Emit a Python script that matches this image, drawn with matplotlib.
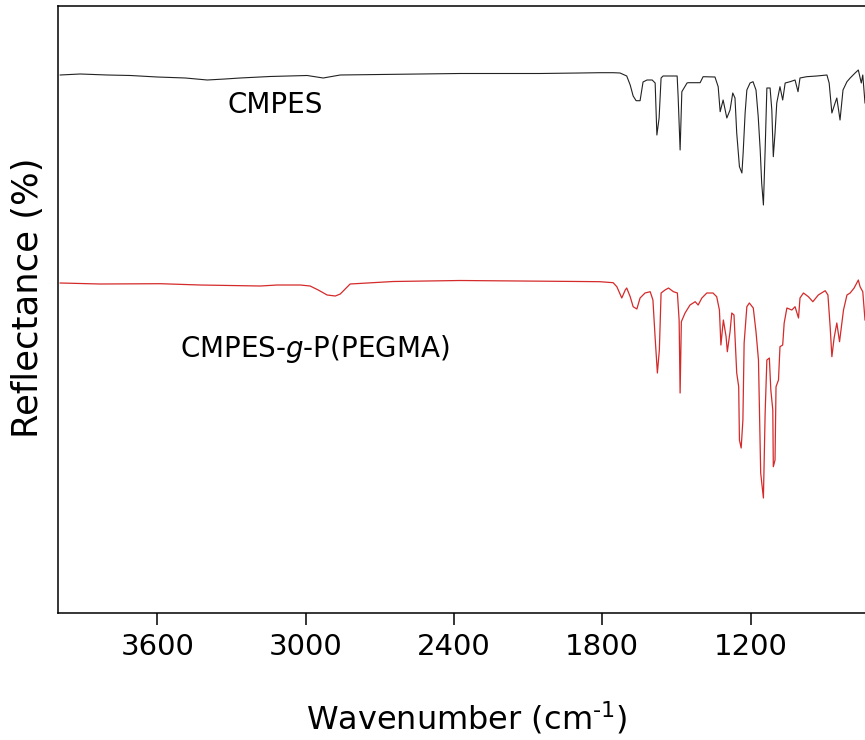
import numpy as np
import matplotlib
matplotlib.use('Agg')
import matplotlib.pyplot as plt

plt.rcParams['font.family'] = ['DejaVu Sans']
plt.rcParams['mathtext.fontset'] = 'dejavusans'

#---------------- FTIR data (offset reflectance, a.u.)
# CMPES
wn_cmpes = [3993, 3912, 3803, 3709, 3601, 3487, 3398, 3326, 3265, 3144,
            2994, 2929, 2860, 2699, 2537, 2375, 2213, 2051, 1890, 1809,
            1756, 1728, 1701, 1687, 1675, 1663, 1647, 1635, 1619, 1598,
            1586, 1579, 1570, 1562, 1554, 1497, 1493, 1485, 1478, 1457,
            1453, 1404, 1392, 1344, 1331, 1323, 1311, 1296, 1283, 1272,
            1263, 1256, 1245, 1235, 1230, 1222, 1215, 1202, 1190, 1178,
            1169, 1161, 1155, 1148, 1141, 1134, 1121, 1114, 1108, 1101,
            1094, 1081, 1070, 1060, 1040, 1020, 1008, 1000, 973, 932,
            891, 882, 871, 858, 851, 838, 826, 810, 797, 777,
            764, 752, 746, 737]
r_cmpes = [538, 539, 538, 537.5, 536, 535, 533, 534, 535, 536.5,
           537.5, 535, 538, 538.5, 539, 539.5, 539.5, 539.5, 540, 540.3,
           540.3, 540, 537, 528, 517, 512.3, 512.3, 531, 533, 533,
           530, 478, 495, 535, 537, 537, 516.3, 463, 521.3, 530,
           530.3, 530.3, 536.3, 536, 526.3, 501.3, 513, 495, 503, 520,
           515, 480, 446.3, 440, 460, 500, 523, 530, 531.3, 523,
           496.3, 463, 430, 408, 463, 525, 525, 503, 456.3, 480,
           510, 526.3, 513, 530, 531.3, 533, 521.3, 535, 536.3, 537,
           538, 530, 500, 510, 515, 493, 523, 531.3, 535, 540,
           543, 530, 538, 510]

# CMPES-g-P(PEGMA)
wn_graft = [3993, 3831, 3588, 3427, 3184, 3115, 3022, 2982, 2949, 2913,
            2880, 2860, 2840, 2820, 2646, 2375, 2133, 1890, 1809, 1756,
            1741, 1721, 1707, 1701, 1687, 1675, 1660, 1647, 1627, 1606,
            1595, 1586, 1577, 1569, 1562, 1546, 1532, 1512, 1496, 1489,
            1485, 1480, 1465, 1445, 1424, 1412, 1397, 1377, 1352, 1337,
            1326, 1320, 1310, 1299, 1294, 1283, 1276, 1267, 1256, 1248,
            1245, 1238, 1231, 1226, 1215, 1205, 1189, 1178, 1168, 1159,
            1148, 1141, 1134, 1124, 1118, 1110, 1108, 1101, 1097, 1087,
            1081, 1070, 1064, 1053, 1033, 1020, 1006, 1000, 986, 966,
            948, 926, 898, 887, 878, 871, 862, 851, 840, 824,
            810, 797, 781, 764, 757, 746, 737]
r_graft = [330, 329, 329.3, 328, 327, 328, 328, 327, 323, 318,
           317, 319, 324, 329, 331.5, 332.5, 332, 331.5, 331.3, 330.3,
           326.3, 315, 323, 325, 316.3, 306.3, 304, 315, 320, 321.3,
           313, 275, 240, 263, 320, 323, 325, 321.3, 320, 293,
           220, 291.3, 300, 308, 311.3, 308, 315, 320, 320, 316.3,
           303, 268, 293, 276.3, 261.3, 281.3, 300, 298, 240, 226.3,
           173, 165, 193, 270, 306.3, 310, 305, 281.3, 253, 140,
           115, 200, 253, 255, 223, 203, 146.3, 153, 226.3, 233,
           266.3, 268, 290, 305, 303, 306.3, 295, 315, 320, 316.3,
           311.3, 318, 322.3, 318, 286.3, 256.3, 275, 290, 271.3, 303,
           318, 320, 325, 333, 326.3, 321.3, 293]

xticks = [3600, 3000, 2400, 1800, 1200]

#---------------- Figure
fig = plt.figure(figsize=(8.65, 7.4), dpi=100)
ax = fig.add_axes([0.0676, 0.1716, 0.9324, 0.8203])

ax.plot(wn_cmpes, r_cmpes, color='#222222', lw=0.8)
ax.plot(wn_graft, r_graft, color='#d42a2a', lw=0.9)

ax.text(3123, 507.5, 'CMPES', fontsize=20, ha='center', va='center')
ax.text(2962, 264, r'CMPES-$\it{g}$-P(PEGMA)', fontsize=20, ha='center', va='center')

ax.set_xlim(4000, 737)
ax.set_ylim(0, 607)
ax.set_xticks(xticks)
ax.set_yticks([])
ax.tick_params(axis='x', direction='out', length=8.6, width=1.1, labelsize=21, pad=6)

for s in ['left', 'bottom', 'top']:
    ax.spines[s].set_linewidth(1.1)
ax.spines['right'].set_visible(False)

ax.set_xlabel(r'Wavenumber (cm$^{\text{-1}}$)', fontsize=23, va='center')
ax.xaxis.set_label_coords(0.506, -0.173)
ax.set_ylabel('Reflectance (%)', fontsize=25.5, va='center')
ax.yaxis.set_label_coords(-0.038, 0.52)

fig.savefig('out.png', dpi=100)
